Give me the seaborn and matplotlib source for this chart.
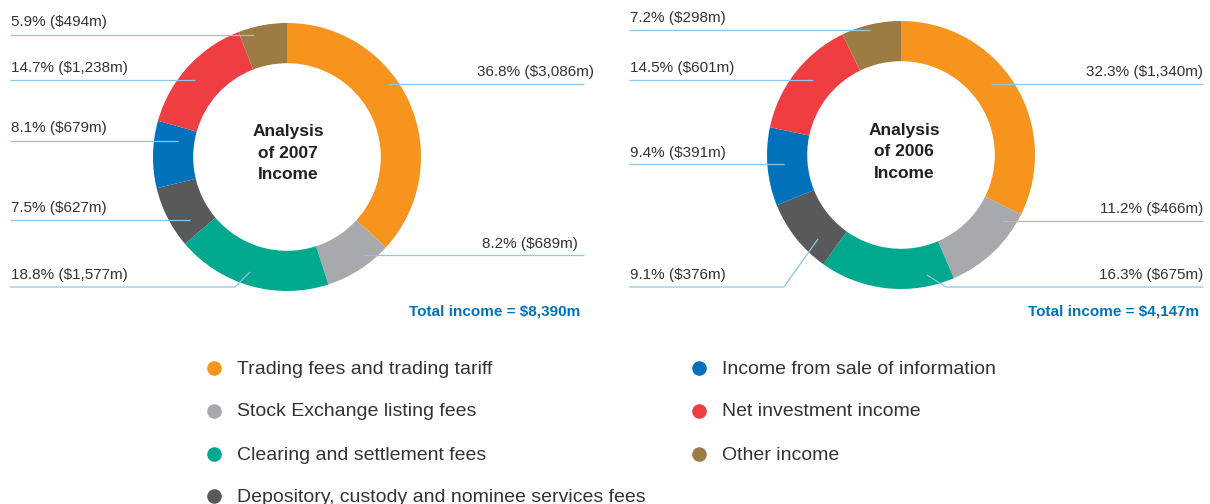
import matplotlib
matplotlib.use("Agg")
import matplotlib.pyplot as plt
import seaborn as sns

# data
categories = [
    "Trading fees and trading tariff",
    "Stock Exchange listing fees",
    "Clearing and settlement fees",
    "Depository, custody and nominee services fees",
    "Income from sale of information",
    "Net investment income",
    "Other income",
]
income_2007 = [3086, 689, 1577, 627, 679, 1238, 494]
pct_2007 = [36.8, 8.2, 18.8, 7.5, 8.1, 14.7, 5.9]
income_2006 = [1340, 466, 675, 376, 391, 601, 298]
pct_2006 = [32.3, 11.2, 16.3, 9.1, 9.4, 14.5, 7.2]
totals = {"2007": 8390, "2006": 4147}

colors = ["#F7941D", "#A7A9AC", "#00A88E", "#58595B", "#0072BC", "#EE3E42", "#9C7C42"]

sns.set_theme(style="white")
plt.rcParams["font.family"] = ["Liberation Sans", "DejaVu Sans"]

W, H = 1210, 504
fig = plt.figure(figsize=(W / 100, H / 100), dpi=100)
palette = sns.color_palette(colors)

TXT = "#333333"
LINE = "#8CC4EA"


def donut(cx, cy, r, values):
    ax = fig.add_axes([(cx - r) / W, 1 - (cy + r) / H, 2 * r / W, 2 * r / H])
    ax.pie(values, colors=palette, startangle=90, counterclock=False,
           wedgeprops=dict(width=0.3, linewidth=0))
    ax.set_xlim(-1, 1)
    ax.set_ylim(-1, 1)
    ax.set_aspect("equal")
    ax.axis("off")
    return ax


donut(287, 157, 134, income_2007)
donut(901, 155, 134, income_2006)

# overlay in pixel coords for labels, leader lines and legend
ov = fig.add_axes([0, 0, 1, 1])
ov.set_xlim(0, W)
ov.set_ylim(H, 0)
ov.axis("off")
ov.patch.set_alpha(0)


def lab(pct, val):
    return f"{pct}% (${val:,}m)"


def leaders(pcts, vals, left_x, right_x, rows):
    # rows: (index, side, text_x, text_y, line_y, points of the line after the edge)
    for i, side, tx, ty, ly, pts in rows:
        t = lab(pcts[i], vals[i])
        edge = left_x if side == "L" else right_x
        ov.text(tx, ty, t, ha="left" if side == "L" else "right", va="center",
                fontsize=11, color=TXT)
        xs = [edge] + [p[0] for p in pts]
        ys = [ly] + [p[1] for p in pts]
        ov.plot(xs, ys, color=LINE, lw=0.9, solid_capstyle="butt")


leaders(pct_2007, income_2007, 10, 584, [
    (6, "L", 11, 22, 35, [(254, 35)]),
    (5, "L", 11, 68, 80, [(195, 80)]),
    (4, "L", 11, 128, 141, [(178, 141)]),
    (3, "L", 11, 208, 220, [(190, 220)]),
    (2, "L", 11, 275, 287, [(235, 287), (250, 272)]),
    (0, "R", 594, 72, 84, [(388, 84)]),
    (1, "R", 578, 244, 255, [(364, 255)]),
])
leaders(pct_2006, income_2006, 629, 1203, [
    (6, "L", 630, 18, 30, [(870, 30)]),
    (5, "L", 630, 68, 80, [(813, 80)]),
    (4, "L", 630, 153, 164, [(784, 164)]),
    (3, "L", 630, 275, 287, [(784, 287), (818, 239)]),
    (0, "R", 1203, 72, 84, [(991, 84)]),
    (1, "R", 1203, 209, 221, [(1002, 221)]),
    (2, "R", 1203, 275, 287, [(946, 287), (927, 275)]),
])

# centre titles
for cx, cy, yr in [(288, 153, "2007"), (904, 152, "2006")]:
    ov.text(cx, cy, f"Analysis\nof {yr}\nIncome", ha="center", va="center",
            fontsize=12.5, fontweight="bold", color="#231F20", linespacing=1.55)

ov.text(580, 311, f"Total income = ${totals['2007']:,}m", ha="right", va="center",
        fontsize=11, fontweight="bold", color="#0072BC")
ov.text(1199, 311, f"Total income = ${totals['2006']:,}m", ha="right", va="center",
        fontsize=11, fontweight="bold", color="#0072BC")

# legend, column-major like the original
leg_rows = [368, 411, 454, 496]
leg_pos = [(214, leg_rows[0]), (214, leg_rows[1]), (214, leg_rows[2]), (214, leg_rows[3]),
           (699, leg_rows[0]), (699, leg_rows[1]), (699, leg_rows[2])]
for (x, y), name, c in zip(leg_pos, categories, palette):
    ov.scatter([x], [y], s=110, color=c, linewidths=0)
    ov.text(x + 23, y + 1, name, ha="left", va="center", fontsize=14, color=TXT)

fig.savefig("out.png", dpi=100)
